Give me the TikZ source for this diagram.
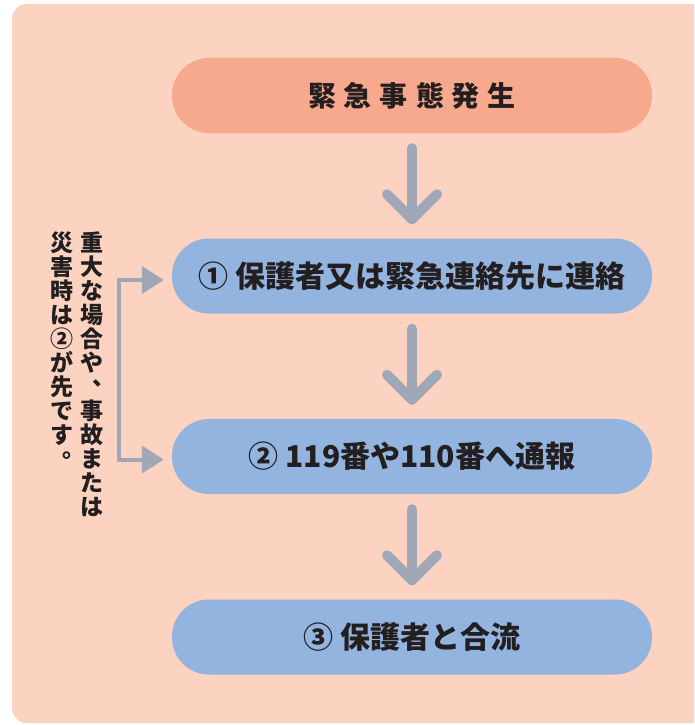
\documentclass[tikz,border=0pt]{standalone}
\usepackage{fontspec}
\newfontfamily\jp{Noto Sans CJK JP}
\usetikzlibrary{arrows.meta}
\definecolor{bgpink}{HTML}{FCD2C0}
\definecolor{boxorange}{HTML}{F6A98C}
\definecolor{boxblue}{HTML}{94B4E0}
\definecolor{arrowgray}{HTML}{A0A8B8}
\definecolor{ink}{HTML}{231E1F}
\newcommand\vpunct[1]{\makebox[1em][l]{\hspace*{0.5em}\raisebox{0.45em}[0.85em][0.1em]{#1}}}
\tikzset{
  flowbox/.style={minimum width=480pt, minimum height=75pt, rounded corners=37pt,
    inner sep=0pt, text=ink, font=\jp\bfseries\fontsize{30}{30}\selectfont},
  downarrow/.style={draw=arrowgray, line width=10pt, line cap=round, line join=round},
  bracket/.style={draw=arrowgray, line width=4pt,
    {Triangle[length=22pt,width=27pt]}-{Triangle[length=22pt,width=27pt]}},
  vtext/.style={anchor=north, inner sep=0pt, align=center, text=ink,
    font=\jp\bfseries\fontsize{23}{24}\selectfont}
}
\begin{document}
\begin{tikzpicture}[x=1pt,y=-1pt]
\useasboundingbox (0,0) rectangle (694,725);
\clip (0,0) rectangle (694,725);
\fill[bgpink, rounded corners=15pt] (12,4) rectangle (730,723);

\node[flowbox, fill=boxorange, font=\jp\bfseries\fontsize{28}{28}\selectfont] (b0) at (412,95.5)
  {緊\hspace{8pt}急\hspace{8pt}事\hspace{8pt}態\hspace{8pt}発\hspace{8pt}生};
\node[flowbox, fill=boxblue] (b1) at (412,276) {① 保護者又は緊急連絡先に連絡};
\node[flowbox, fill=boxblue] (b2) at (412,456.5) {② 119番や110番へ通報};
\node[flowbox, fill=boxblue] (b3) at (412,637) {③ 保護者と合流};

\foreach \a/\b in {b0/b1, b1/b2, b2/b3}{
  \coordinate (s) at ([yshift=-15pt]\a.south);
  \coordinate (t) at ([yshift=19pt]\b.north);
  \draw[downarrow] (s) -- (t);
  \draw[downarrow] ([shift={(-25,-25)}]t) -- (t) -- ([shift={(25,-25)}]t);
}

\draw[bracket] ([xshift=-8pt,yshift=-4pt]b1.west) -- ++(-45,0)
  |- ([xshift=-8pt,yshift=-3pt]b2.west);

\node[vtext] (c1) at (92,232) {重\\大\\な\\場\\合\\や\\\vpunct{、}\\事\\故\\ま\\た\\は};
\node[vtext] (c2) at (62,232) {災\\害\\時\\は\\②\\が\\先\\で\\す\\\vpunct{。}};
\end{tikzpicture}
\end{document}
